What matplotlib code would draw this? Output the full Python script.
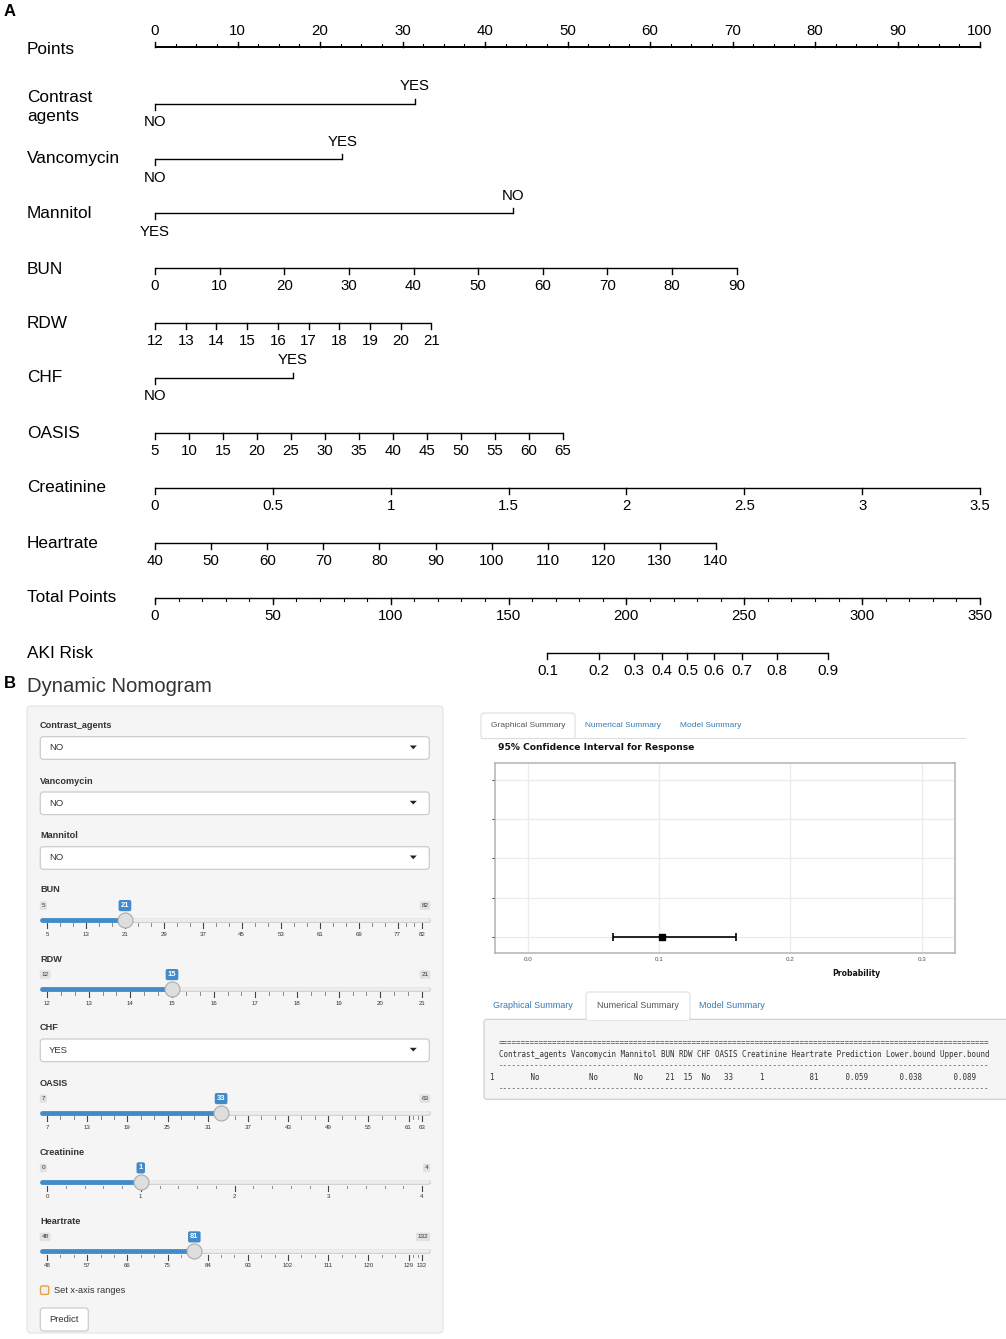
import matplotlib
matplotlib.use("Agg")
import matplotlib.pyplot as plt
from matplotlib.patches import FancyBboxPatch, Rectangle, Polygon
import numpy as np

# ---------------- data ----------------
points_ticks = list(range(0, 101, 10))
points_minor = list(np.arange(0, 100.1, 2.5))

contrast_levels = ["NO", "YES"]
contrast_points = [0, 31.5]
vanco_levels = ["NO", "YES"]
vanco_points = [0, 22.7]
mannitol_levels = ["YES", "NO"]
mannitol_points = [0, 43.4]
chf_levels = ["NO", "YES"]
chf_points = [0, 16.7]

bun_ticks = list(range(0, 91, 10))
bun_max_points = 70.5
rdw_ticks = list(range(12, 22))
rdw_max_points = 33.5
oasis_ticks = list(range(5, 66, 5))
oasis_max_points = 49.4
creat_ticks = [0, 0.5, 1, 1.5, 2, 2.5, 3, 3.5]
creat_labels = ["0", "0.5", "1", "1.5", "2", "2.5", "3", "3.5"]
creat_max_points = 100.0
hr_ticks = list(range(40, 141, 10))
hr_max_points = 68.0

total_ticks = list(range(0, 351, 50))
total_minor = list(range(0, 351, 10))
total_max = 350

aki_ticks = [0.1, 0.2, 0.3, 0.4, 0.5, 0.6, 0.7, 0.8, 0.9]
aki_total_points = [166.5, 188.4, 203.0, 214.9, 225.9, 237.2, 249.0, 263.7, 285.7]

# dynamic nomogram inputs
select_inputs = [("Contrast_agents", "NO"), ("Vancomycin", "NO"), ("Mannitol", "NO")]
chf_input = ("CHF", "YES")
sliders = [
    ("BUN", 5, 82, 21, [5, 13, 21, 29, 37, 45, 53, 61, 69, 77, 82]),
    ("RDW", 12, 21, 15, [12, 13, 14, 15, 16, 17, 18, 19, 20, 21]),
    ("OASIS", 7, 63, 33, [7, 13, 19, 25, 31, 37, 43, 49, 55, 61, 63]),
    ("Creatinine", 0, 4, 1, [0, 1, 2, 3, 4]),
    ("Heartrate", 48, 132, 81, [48, 57, 66, 75, 84, 93, 102, 111, 120, 129, 132]),
]

ci_ticks = [0.0, 0.1, 0.2, 0.3]
ci_levels = [1, 2, 3, 4, 5]
ci_pred = 0.1025
ci_lower = 0.0646
ci_upper = 0.1588

table_cols = ["Contrast_agents", "Vancomycin", "Mannitol", "BUN", "RDW", "CHF", "OASIS",
              "Creatinine", "Heartrate", "Prediction", "Lower.bound", "Upper.bound"]
table_vals = ["No", "No", "No", "21", "15", "No", "33", "1", "81", "0.059", "0.038", "0.089"]

# ---------------- figure ----------------
W, H = 1006, 1339
SANS = ['Liberation Sans', 'DejaVu Sans']
plt.rcParams['font.family'] = SANS
fig = plt.figure(figsize=(W / 100, H / 100), dpi=100)


def fig_rect(x0, y0, x1, y1):
    return [x0 / W, 1 - y1 / H, (x1 - x0) / W, (y1 - y0) / H]


# ---------- Panel A: nomogram (x in "points" units, y in pixels) ----------
PX0, PXPP = 155.0, 8.25
axA = fig.add_axes([0, 0, 1, 1])
axA.set_xlim(-PX0 / PXPP, (W - PX0) / PXPP)
axA.set_ylim(H, 0)
axA.set_axis_off()

LW = 1.0
TL = 10.8   # tick label size
RL = 12.4   # row label size


def row_label(y, txt):
    axA.text(27 / PXPP - PX0 / PXPP, y, txt, fontsize=RL, ha='left', va='center')


def cont_scale(y, ticks, vmin, vmax, pmax, labels=None, minor=None):
    f = lambda v: (np.asarray(v, float) - vmin) / (vmax - vmin) * pmax
    axA.plot([f(vmin), f(vmax)], [y, y], color='k', lw=LW, solid_capstyle='butt')
    if minor is not None:
        for m in minor:
            axA.plot([f(m), f(m)], [y, y + 3], color='k', lw=0.8)
    for i, t in enumerate(ticks):
        axA.plot([f(t), f(t)], [y, y + 5.5], color='k', lw=LW)
        lab = labels[i] if labels is not None else str(t)
        axA.text(f(t), y + 18, lab, fontsize=TL, ha='center', va='center')


def bin_scale(y, levels, pts):
    axA.plot([pts[0], pts[1]], [y, y], color='k', lw=LW, solid_capstyle='butt')
    axA.plot([pts[0], pts[0]], [y, y + 5.5], color='k', lw=LW)
    axA.plot([pts[1], pts[1]], [y, y - 5.5], color='k', lw=LW)
    axA.text(pts[0], y + 18.5, levels[0], fontsize=TL, ha='center', va='center')
    axA.text(pts[1], y - 17.5, levels[1], fontsize=TL, ha='center', va='center')


# Points axis (ticks upward)
yP = 47
axA.plot([0, 100], [yP, yP], color='k', lw=1.4, solid_capstyle='butt')
for m in points_minor:
    axA.plot([m, m], [yP, yP - 3], color='k', lw=0.8)
for t in points_ticks:
    axA.plot([t, t], [yP, yP - 5.5], color='k', lw=LW)
    axA.text(t, 31, str(t), fontsize=TL, ha='center', va='center')
row_label(49, "Points")

axA.text(-PX0 / PXPP + 27 / PXPP, 98, "Contrast", fontsize=RL, ha='left', va='center')
axA.text(-PX0 / PXPP + 27 / PXPP, 117, "agents", fontsize=RL, ha='left', va='center')
bin_scale(104, contrast_levels, contrast_points)

row_label(158, "Vancomycin")
bin_scale(159, vanco_levels, vanco_points)

row_label(214, "Mannitol")
bin_scale(213, mannitol_levels, mannitol_points)

row_label(269, "BUN")
cont_scale(268, bun_ticks, bun_ticks[0], bun_ticks[-1], bun_max_points)

row_label(323, "RDW")
cont_scale(323, rdw_ticks, rdw_ticks[0], rdw_ticks[-1], rdw_max_points)

row_label(378, "CHF")
bin_scale(378, chf_levels, chf_points)

row_label(433, "OASIS")
cont_scale(433, oasis_ticks, oasis_ticks[0], oasis_ticks[-1], oasis_max_points)

row_label(488, "Creatinine")
cont_scale(488, creat_ticks, creat_ticks[0], creat_ticks[-1], creat_max_points, labels=creat_labels)

row_label(543, "Heartrate")
cont_scale(543, hr_ticks, hr_ticks[0], hr_ticks[-1], hr_max_points)

row_label(598, "Total Points")
cont_scale(598, total_ticks, 0, total_max, 100.0, minor=total_minor)

row_label(653, "AKI Risk")
aki_x = [tp / total_max * 100.0 for tp in aki_total_points]
axA.plot([aki_x[0], aki_x[-1]], [653, 653], color='k', lw=LW, solid_capstyle='butt')
for xv, lab in zip(aki_x, aki_ticks):
    axA.plot([xv, xv], [653, 658.5], color='k', lw=LW)
    axA.text(xv, 671, f"{lab:g}", fontsize=TL, ha='center', va='center')

# ---------- UI overlay in pixel coordinates ----------
ui = fig.add_axes([0, 0, 1, 1])
ui.set_xlim(0, W)
ui.set_ylim(H, 0)
ui.set_axis_off()

ui.text(4, 12, "A", fontsize=12, fontweight='bold', ha='left', va='center')
ui.text(4, 684, "B", fontsize=12, fontweight='bold', ha='left', va='center')
ui.text(27, 687, "Dynamic Nomogram", fontsize=14.6, color='#333333', ha='left', va='center')

# well
ui.add_patch(FancyBboxPatch((27, 706), 416, 627, boxstyle='round,pad=0,rounding_size=4',
                            fc='#f5f5f5', ec='#e3e3e3', lw=0.8))

LBL = 6.6
TXT = '#333333'


def select_box(ylab, name, value):
    ui.text(40, ylab, name, fontsize=LBL, fontweight='bold', color=TXT, ha='left', va='center')
    ui.add_patch(FancyBboxPatch((40.3, ylab + 11), 389, 22.6, boxstyle='round,pad=0,rounding_size=3',
                                fc='white', ec='#cccccc', lw=0.9))
    ui.text(49, ylab + 22.2, value, fontsize=6.8, color=TXT, ha='left', va='center')
    ui.add_patch(Polygon([[409.8, ylab + 19.8], [416.8, ylab + 19.8], [413.3, ylab + 23.5]],
                         closed=True, fc='#222222', ec='none'))


sel_y = [725.7, 781.0, 835.7]
for (name, val), yl in zip(select_inputs, sel_y):
    select_box(yl, name, val)
select_box(1028.0, chf_input[0], chf_input[1])


def small_counts(n_big):
    sm = 4
    if n_big > 4:
        sm = 3
    if n_big > 7:
        sm = 2
    if n_big > 14:
        sm = 1
    return sm


def draw_slider(ylab, name, vmin, vmax, value, majors):
    ui.text(40, ylab, name, fontsize=LBL, fontweight='bold', color=TXT, ha='left', va='center')
    u = (vmax - vmin) / 375.0
    ax = fig.add_axes(fig_rect(34, ylab + 6, 438, ylab + 52))
    ax.set_xlim(vmin - 13 * u, vmax + 16 * u)
    ax.set_ylim(ylab + 52, ylab + 6)
    ax.set_axis_off()
    ty = ylab + 29.8
    xl, xr = vmin - 7 * u, vmax + 8 * u
    ax.plot([xl + 2 * u, xr - 2 * u], [ty, ty], color='#d2d2d2', lw=5.0 * 0.72, solid_capstyle='round', zorder=1)
    ax.plot([xl + 2 * u, xr - 2 * u], [ty, ty], color='#ededed', lw=3.6 * 0.72, solid_capstyle='round', zorder=2)
    ax.plot([xl + 2 * u, value], [ty, ty], color='#428bca', lw=4.8 * 0.72, solid_capstyle='round', zorder=3)
    sm = small_counts(len(majors) - 1)
    for i, m in enumerate(majors):
        ax.plot([m, m], [ty + 3.6, ty + 8.6], color='#444444', lw=0.8)
        ax.text(m, ylab + 44.3, str(m), fontsize=4.4, color=TXT, ha='center', va='center')
        if i > 0:
            prev = majors[i - 1]
            sw = (m - prev) / (sm + 1)
            for z in range(1, sm + 1):
                sp = m - sw * z
                ax.plot([sp, sp], [ty + 3.6, ty + 6.0], color='#8a8a8a', lw=0.7)
    ax.plot([value], [ty], 'o', ms=15 * 0.72, mfc='#dedede', mec='#ababab', mew=0.8, zorder=6)
    bb_gray = dict(boxstyle='round,pad=0.28,rounding_size=0.25', fc='#e1e1e1', ec='none')
    bb_blue = dict(boxstyle='round,pad=0.28,rounding_size=0.25', fc='#428bca', ec='none')
    ax.text(xl + 1.5 * u, ylab + 15.6, str(vmin), fontsize=4.6, color=TXT, ha='left', va='center', bbox=bb_gray)
    ax.text(xr - 1.5 * u, ylab + 15.6, str(vmax), fontsize=4.6, color=TXT, ha='right', va='center', bbox=bb_gray)
    ax.text(value, ylab + 15.6, str(value), fontsize=5.4, color='white', fontweight='bold',
            ha='center', va='center', bbox=bb_blue)


slider_y = [890.0, 959.0, 1083.0, 1152.3, 1221.3]
for (name, vmin, vmax, val, majors), yl in zip(sliders, slider_y):
    draw_slider(yl, name, vmin, vmax, val, majors)

# checkbox + button
ui.add_patch(FancyBboxPatch((40.5, 1286), 8.2, 8.4, boxstyle='round,pad=0,rounding_size=1.5',
                            fc='#efefef', ec='#e2a24a', lw=1.0))
ui.text(54, 1290.5, "Set x-axis ranges", fontsize=6.6, color=TXT, ha='left', va='center')
ui.add_patch(FancyBboxPatch((40.3, 1308), 48, 23, boxstyle='round,pad=0,rounding_size=3',
                            fc='white', ec='#cccccc', lw=0.9))
ui.text(64.3, 1319.5, "Predict", fontsize=6.8, color=TXT, ha='center', va='center')

# ---------- right side: tabs ----------
BLUE = '#337ab7'
ui.plot([481, 965], [738, 738], color='#dddddd', lw=0.8)
ui.add_patch(FancyBboxPatch((481, 713), 94, 25.5, boxstyle='round,pad=0,rounding_size=3',
                            fc='white', ec='#dddddd', lw=0.8))
ui.add_patch(Rectangle((481.6, 735), 92.8, 4, fc='white', ec='none'))
ui.text(528, 725.7, "Graphical Summary", fontsize=6.0, color='#555555', ha='center', va='center')
ui.text(623, 725.7, "Numerical Summary", fontsize=6.0, color=BLUE, ha='center', va='center')
ui.text(711, 725.7, "Model Summary", fontsize=6.0, color=BLUE, ha='center', va='center')

ui.text(498.5, 747.3, "95% Confidence Interval for Response", fontsize=6.6, fontweight='bold',
        family=['DejaVu Sans'], color='#111111', ha='left', va='center')

# CI plot
axc = fig.add_axes(fig_rect(495, 763.3, 955, 953.3))
axc.set_xlim(-0.0249, 0.3254)
axc.set_ylim(0.585, 5.425)
axc.set_xticks(ci_ticks)
axc.set_xticklabels([f"{t:.1f}" for t in ci_ticks])
axc.set_yticks(ci_levels)
axc.set_yticklabels([])
axc.grid(True, color='#ebebeb', lw=0.9)
axc.set_axisbelow(True)
for s in axc.spines.values():
    s.set_color('#b3b3b3')
    s.set_linewidth(1.1)
axc.tick_params(axis='x', length=0, labelsize=4.5, labelcolor='#4d4d4d', pad=3)
axc.tick_params(axis='y', length=2.2, color='#333333', width=0.7)
axc.errorbar([ci_pred], [ci_levels[0]], xerr=[[ci_pred - ci_lower], [ci_upper - ci_pred]],
             fmt='s', color='black', ms=4.2, capsize=3.2, elinewidth=1.2, capthick=1.2)
ui.text(856, 973, "Probability", fontsize=5.6, fontweight='bold', family=['DejaVu Sans'],
        color='#111111', ha='center', va='center')

# bottom tabs + numerical summary
ui.add_patch(FancyBboxPatch((484, 1019.3), 540, 80, boxstyle='round,pad=0,rounding_size=3',
                            fc='#f5f5f5', ec='#cccccc', lw=0.8))
ui.add_patch(FancyBboxPatch((586, 992), 104, 28, boxstyle='round,pad=0,rounding_size=3',
                            fc='white', ec='#dddddd', lw=0.8))
ui.add_patch(Rectangle((586.6, 1016), 102.8, 3.6, fc='white', ec='none'))
ui.text(533, 1005.7, "Graphical Summary", fontsize=6.5, color=BLUE, ha='center', va='center')
ui.text(638, 1005.7, "Numerical Summary", fontsize=6.5, color='#555555', ha='center', va='center')
ui.text(732, 1005.7, "Model Summary", fontsize=6.5, color=BLUE, ha='center', va='center')

header = " ".join(table_cols)
row = "1 " + " ".join(v.center(len(c)) for v, c in zip(table_vals, table_cols))
MONO = ['DejaVu Sans Mono']
MS = 5.42
ui.text(499, 1042.3, "=" * len(header), fontsize=MS, family=MONO, color='#555555', ha='left', va='center')
ui.text(499, 1054.3, header, fontsize=MS, family=MONO, color=TXT, ha='left', va='center')
ui.text(499, 1065.7, "-" * len(header), fontsize=MS, family=MONO, color='#555555', ha='left', va='center')
ui.text(490, 1077.3, row, fontsize=MS, family=MONO, color=TXT, ha='left', va='center')
ui.text(499, 1088.7, "-" * len(header), fontsize=MS, family=MONO, color='#555555', ha='left', va='center')

fig.savefig("out.png", dpi=100)
